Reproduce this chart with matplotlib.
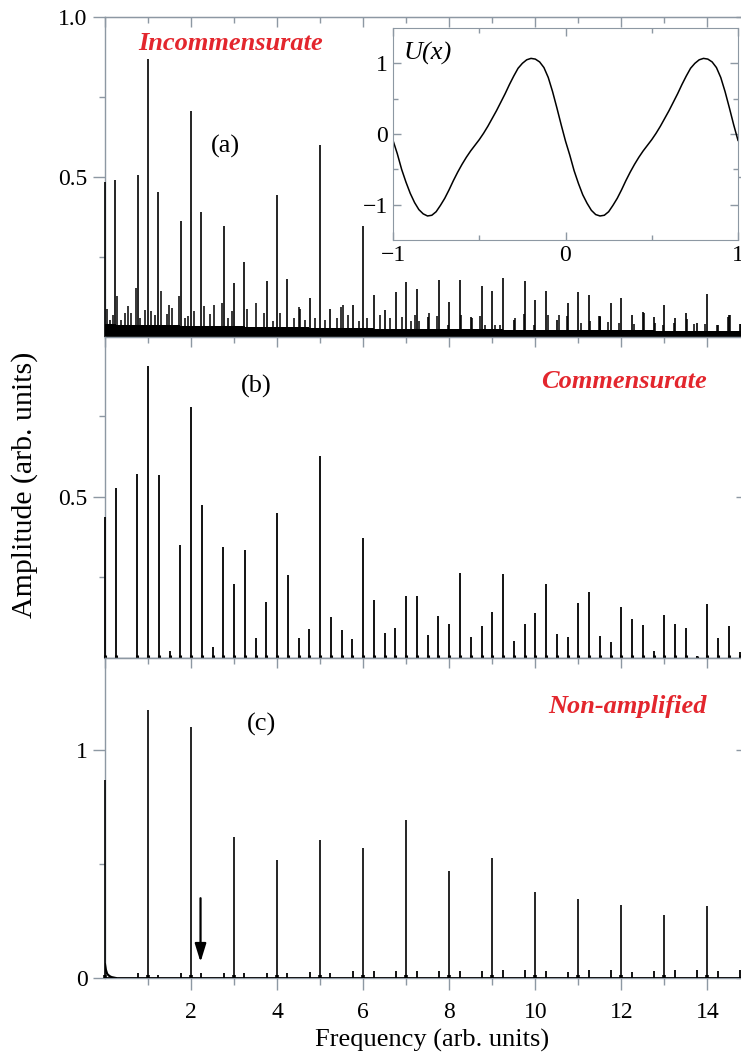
#!/usr/bin/env python3
"""Spectra of the ratchet response: incommensurate, commensurate, non-amplified."""

import os

os.environ.setdefault("MPLCONFIGDIR", "/tmp/matplotlib")

import matplotlib

matplotlib.use("Agg")
import matplotlib.pyplot as plt
import numpy as np
from matplotlib.ticker import FixedLocator, MultipleLocator, NullFormatter

W, H, DPI = 741, 1057, 100
SPINE = "#8d98a3"
RED = "#e3262d"
SERIF = ["Liberation Serif", "DejaVu Serif"]

# (a) incommensurate: main lines
A_FREQ = [0.0, 0.24, 0.77, 1.0, 1.24, 1.77, 2.0, 2.24, 2.77, 3.0, 3.24, 3.76, 4.0, 4.24,
          4.76, 5.0, 5.24, 5.76, 6.0, 6.24, 6.5, 6.76, 7.0, 7.24, 7.5, 7.76, 8.0, 8.24,
          8.5, 8.76, 9.0, 9.24, 9.5, 9.76, 10.0, 10.24, 10.5, 10.76, 11.0, 11.24, 11.5,
          11.76, 12.0, 12.24, 12.5, 12.76, 13.0, 13.24, 13.5, 13.76, 14.0, 14.24, 14.5, 14.76]
A_AMP = [0.485, 0.49, 0.507, 0.869, 0.454, 0.364, 0.706, 0.392, 0.347, 0.171, 0.236, 0.175,
         0.444, 0.183, 0.123, 0.600, 0.088, 0.100, 0.347, 0.131, 0.086, 0.14, 0.173, 0.152,
         0.064, 0.18, 0.111, 0.18, 0.064, 0.161, 0.144, 0.186, 0.054, 0.176, 0.118, 0.144,
         0.054, 0.108, 0.14, 0.131, 0.064, 0.108, 0.124, 0.069, 0.08, 0.062, 0.10, 0.061,
         0.075, 0.046, 0.134, 0.04, 0.071, 0.043]
# (a) small combination lines ("grass")
A_GRASS_FREQ = [0.04, 0.12, 0.18, 0.29, 0.37, 0.47, 0.54, 0.60, 0.71, 0.81, 0.93, 1.06, 1.16,
                1.30, 1.43, 1.49, 1.55, 1.72, 1.86, 1.94, 2.07, 2.30, 2.44, 2.54, 2.72, 2.87,
                2.96, 3.30, 3.50, 3.70, 3.91, 4.07, 4.40, 4.50, 4.53, 4.65, 4.88, 5.12, 5.38,
                5.48, 5.53, 5.65, 5.90, 6.10, 6.38, 6.63, 6.90, 7.10, 7.21, 7.29, 7.52, 7.71,
                7.98, 8.28, 8.53, 8.72, 8.82, 9.07, 9.19, 9.53, 9.73, 9.96, 10.30, 10.54,
                10.74, 11.06, 11.26, 11.47, 11.51, 11.70, 11.94, 12.29, 12.52, 12.79, 12.96,
                13.22, 13.53, 13.69, 13.94, 14.23, 14.48, 14.53, 14.77]
A_GRASS_AMP = [0.09, 0.054, 0.071, 0.128, 0.054, 0.075, 0.098, 0.077, 0.155, 0.059, 0.084,
               0.083, 0.071, 0.145, 0.074, 0.10, 0.093, 0.128, 0.059, 0.066, 0.083, 0.097,
               0.074, 0.10, 0.106, 0.059, 0.082, 0.09, 0.108, 0.077, 0.05, 0.075, 0.06, 0.095,
               0.09, 0.055, 0.06, 0.055, 0.06, 0.095, 0.10, 0.07, 0.05, 0.06, 0.07, 0.06,
               0.065, 0.05, 0.07, 0.051, 0.075, 0.066, 0.038, 0.071, 0.059, 0.066, 0.04,
               0.04, 0.04, 0.059, 0.072, 0.038, 0.071, 0.069, 0.066, 0.045, 0.052, 0.066,
               0.066, 0.048, 0.045, 0.042, 0.076, 0.045, 0.04, 0.045, 0.056, 0.042, 0.042,
               0.038, 0.064, 0.071, 0.042]
# (a) dense noise floor
A_FLOOR_FREQ = [0.0, 0.5, 1.0, 1.5, 2.0, 2.5, 3.0, 3.5, 4.0, 4.5, 5.0, 5.5, 6.0, 6.5, 7.0, 7.5,
                8.0, 8.5, 9.0, 9.5, 10.0, 10.5, 11.0, 11.5, 12.0, 12.5, 13.0, 13.5, 14.0, 14.5, 15.0]
A_FLOOR_AMP = [0.042, 0.04, 0.038, 0.037, 0.036, 0.035, 0.034, 0.033, 0.032, 0.031, 0.03, 0.029,
               0.028, 0.027, 0.027, 0.026, 0.026, 0.025, 0.025, 0.024, 0.024, 0.023, 0.023,
               0.022, 0.022, 0.022, 0.021, 0.021, 0.021, 0.02, 0.02]

# (b) commensurate
B_FREQ = [0.0, 0.25, 0.75, 1.0, 1.25, 1.5, 1.75, 2.0, 2.25, 2.5, 2.75, 3.0, 3.25, 3.5, 3.75,
          4.0, 4.25, 4.5, 4.75, 5.0, 5.25, 5.5, 5.75, 6.0, 6.25, 6.5, 6.75, 7.0, 7.25, 7.5,
          7.75, 8.0, 8.25, 8.5, 8.75, 9.0, 9.25, 9.5, 9.75, 10.0, 10.25, 10.5, 10.75, 11.0,
          11.25, 11.5, 11.75, 12.0, 12.25, 12.5, 12.75, 13.0, 13.25, 13.5, 13.75, 14.0,
          14.25, 14.5, 14.75]
B_AMP = [0.436, 0.526, 0.570, 0.905, 0.568, 0.021, 0.349, 0.78, 0.474, 0.033, 0.343, 0.228,
         0.335, 0.061, 0.172, 0.45, 0.256, 0.061, 0.089, 0.627, 0.127, 0.085, 0.058, 0.372,
         0.178, 0.076, 0.092, 0.193, 0.192, 0.071, 0.128, 0.106, 0.262, 0.063, 0.099, 0.143,
         0.259, 0.052, 0.105, 0.139, 0.229, 0.073, 0.064, 0.171, 0.204, 0.066, 0.049, 0.157,
         0.12, 0.102, 0.022, 0.132, 0.104, 0.092, 0.005, 0.166, 0.061, 0.099, 0.019]

# (c) non-amplified
C_FREQ = [0, 1, 2, 3, 4, 5, 6, 7, 8, 9, 10, 11, 12, 13, 14]
C_AMP = [0.87, 1.175, 1.10, 0.62, 0.518, 0.604, 0.569, 0.693, 0.471, 0.525, 0.376, 0.345,
         0.320, 0.276, 0.316]
C_SIDE_FREQ = [0.76, 1.24, 1.76, 2.24, 2.76, 3.24, 3.76, 4.24, 4.76, 5.24, 5.76, 6.24, 6.76,
               7.24, 7.76, 8.24, 8.76, 9.24, 9.76, 10.24, 10.76, 11.24, 11.76, 12.24, 12.76,
               13.24, 13.76, 14.24, 14.76]
C_SIDE_AMP = [0.02, 0.015, 0.022, 0.02, 0.02, 0.02, 0.022, 0.024, 0.028, 0.024, 0.03, 0.03,
              0.03, 0.032, 0.032, 0.03, 0.03, 0.033, 0.033, 0.03, 0.028, 0.033, 0.033, 0.028,
              0.03, 0.033, 0.033, 0.03, 0.033]
C_TAIL_FREQ = [0.0, 0.02, 0.05, 0.10, 0.15, 0.25]
C_TAIL_AMP = [0.06, 0.036, 0.018, 0.009, 0.004, 0.0]
ARROW_FREQ = 2.22
ARROW_FROM, ARROW_TO = 0.35, 0.07

# inset: potential U(x)
U_X = np.linspace(-1.0, 1.0, 81)
U_VALS = [-0.09, -0.28, -0.50, -0.68, -0.84, -0.97, -1.07, -1.13, -1.16, -1.15, -1.10, -1.01,
          -0.91, -0.79, -0.66, -0.54, -0.43, -0.33, -0.24, -0.16, -0.08, 0.01, 0.11, 0.22,
          0.33, 0.45, 0.57, 0.70, 0.82, 0.93, 1.00, 1.05, 1.07, 1.06, 1.02, 0.94, 0.80, 0.60,
          0.37, 0.13,
          -0.10, -0.30, -0.52, -0.70, -0.86, -0.98, -1.08, -1.14, -1.16, -1.15, -1.10, -1.01,
          -0.91, -0.79, -0.66, -0.54, -0.43, -0.33, -0.24, -0.16, -0.08, 0.01, 0.11, 0.22,
          0.33, 0.45, 0.57, 0.70, 0.82, 0.93, 1.00, 1.05, 1.07, 1.06, 1.02, 0.94, 0.80, 0.60,
          0.37, 0.13, -0.09]

PANELS = [
    # name, ymax, major ticks, minor ticks, tick labels, tag, tag pos, note, note pos
    ("a", 1.0, [0.5, 1.0], [0.25, 0.75], ["0.5", "1.0"], "(a)", (225, 146), "Incommensurate", (231, 44)),
    ("b", 0.995, [0.5], [0.25, 0.75], ["0.5"], "(b)", (256, 386), "Commensurate", (624, 382)),
    ("c", 1.405, [0, 1], [0.5], ["0", "1"], "(c)", (261, 724), "Non-amplified", (627, 707)),
]

AX_LEFT, AX_RIGHT = 105, 744
AX_TOP, AX_BOTTOM = 17, 978
XMAX = 14.85
TICK_FS = 17
LABEL_FS = 19


def fig_xy(px: float, py: float):
    return px / W, 1 - py / H


def style_panel(ax, ymax, majors, minors, labels):
    ax.set_xlim(0, XMAX)
    ax.set_ylim(0, ymax)
    for side in ("left", "top", "bottom", "right"):
        ax.spines[side].set_color(SPINE)
        ax.spines[side].set_linewidth(1.0)
    ax.yaxis.set_major_locator(FixedLocator(majors))
    ax.yaxis.set_minor_locator(FixedLocator(minors))
    ax.set_yticklabels(labels)
    ax.tick_params(axis="y", which="both", direction="out", color=SPINE, labelsize=TICK_FS, pad=4)
    ax.tick_params(axis="y", which="major", length=8.5, width=1.0)
    ax.tick_params(axis="y", which="minor", length=4, width=1.0)

    right = ax.secondary_yaxis("right")
    right.set_yticks(majors)
    right.yaxis.set_major_formatter(NullFormatter())
    right.tick_params(axis="y", direction="in", length=6, width=1.0, color=SPINE)
    right.spines["right"].set_color(SPINE)

    top = ax.secondary_xaxis("top")
    top.xaxis.set_major_locator(MultipleLocator(2))
    top.xaxis.set_minor_locator(MultipleLocator(1))
    top.xaxis.set_major_formatter(NullFormatter())
    top.tick_params(axis="x", which="both", direction="in", width=1.0, color=SPINE)
    top.tick_params(axis="x", which="major", length=7)
    top.tick_params(axis="x", which="minor", length=4.5)
    top.spines["top"].set_color(SPINE)


def draw_lines(ax, freq, amp, lw=1.2, base=None, base_lw=2.6):
    ax.vlines(freq, 0, amp, color="black", lw=lw, zorder=3, clip_on=False)
    if base is not None:
        ax.vlines(freq, 0, base, color="black", lw=base_lw, zorder=3, clip_on=False)


def main() -> None:
    plt.rcParams["font.family"] = SERIF
    fig = plt.figure(figsize=(W / DPI, H / DPI), dpi=DPI)

    panel_h = (AX_BOTTOM - AX_TOP) / 3
    axes = {}
    for i, (name, ymax, majors, minors, labels, tag, tag_pos, note, note_pos) in enumerate(PANELS):
        top_px = AX_TOP + i * panel_h
        left, top = fig_xy(AX_LEFT, top_px)
        rect = [left, top - panel_h / H, (AX_RIGHT - AX_LEFT) / W, panel_h / H]
        ax = fig.add_axes(rect)
        style_panel(ax, ymax, majors, minors, labels)
        ax.text(*fig_xy(*tag_pos), tag, transform=fig.transFigure, ha="center", va="center",
                fontsize=LABEL_FS)
        ax.text(*fig_xy(*note_pos), note, transform=fig.transFigure, ha="center", va="center",
                fontsize=LABEL_FS, color=RED, fontweight="bold", fontstyle="italic")
        axes[name] = ax

    ax_a, ax_b, ax_c = axes["a"], axes["b"], axes["c"]
    for ax in (ax_a, ax_b):
        ax.tick_params(axis="x", which="both", bottom=False, labelbottom=False)

    # (a)
    ax_a.fill_between(A_FLOOR_FREQ, 0, A_FLOOR_AMP, step="mid", color="black", lw=0, zorder=3)
    draw_lines(ax_a, A_GRASS_FREQ, A_GRASS_AMP, lw=1.1)
    draw_lines(ax_a, A_FREQ, A_AMP, lw=1.2)
    ax_a.axhline(0, color="black", lw=2.0, zorder=3)

    # (b)
    draw_lines(ax_b, B_FREQ, B_AMP, lw=1.3, base=[min(v, 0.008) for v in B_AMP], base_lw=2.2)
    ax_b.axhline(0, color="#555555", lw=0.8, zorder=3)

    # (c)
    draw_lines(ax_c, C_SIDE_FREQ, C_SIDE_AMP, lw=1.3)
    draw_lines(ax_c, C_FREQ, C_AMP, lw=1.2, base=[0.015] * len(C_FREQ))
    ax_c.plot(C_TAIL_FREQ, C_TAIL_AMP, color="black", lw=1.6, zorder=3)
    ax_c.axhline(0, color="black", lw=2.0, zorder=3)
    ax_c.annotate("", xy=(ARROW_FREQ, ARROW_TO), xytext=(ARROW_FREQ, ARROW_FROM),
                  arrowprops=dict(arrowstyle="-|>,head_length=0.55,head_width=0.17",
                                  color="black", lw=1.6, mutation_scale=20, shrinkA=0, shrinkB=0))
    ax_c.xaxis.set_major_locator(FixedLocator([2, 4, 6, 8, 10, 12, 14]))
    ax_c.xaxis.set_minor_locator(FixedLocator([1, 3, 5, 7, 9, 11, 13]))
    ax_c.tick_params(axis="x", which="both", direction="out", color=SPINE, labelsize=TICK_FS, pad=9)
    ax_c.tick_params(axis="x", which="major", length=8.5, width=1.0)
    ax_c.tick_params(axis="x", which="minor", length=5, width=1.0)

    fig.text(*fig_xy(432, 1040), "Frequency (arb. units)", ha="center", va="center",
             fontsize=LABEL_FS)
    fig.text(*fig_xy(25, 485), "Amplitude (arb. units)", ha="center", va="center",
             rotation=90, fontsize=21.5)

    # inset
    l, t = fig_xy(393, 28)
    ax_in = fig.add_axes([l, t - 212 / H, 345 / W, 212 / H])
    ax_in.plot(U_X, U_VALS, color="black", lw=1.1)
    ax_in.set_xlim(-1, 1)
    ax_in.set_ylim(-1.5, 1.5)
    ax_in.set_xticks([-1, 0, 1])
    ax_in.set_yticks([-1, 0, 1])
    ax_in.xaxis.set_minor_locator(FixedLocator([-0.5, 0.5]))
    ax_in.yaxis.set_minor_locator(FixedLocator([-0.5, 0.5]))
    ax_in.tick_params(which="both", direction="in", color=SPINE, labelsize=TICK_FS, width=1.0,
                      top=True, right=True)
    ax_in.tick_params(which="major", length=6)
    ax_in.tick_params(which="minor", length=3.5)
    for side in ax_in.spines.values():
        side.set_color(SPINE)
    ax_in.text(0.03, 0.88, "U(x)", transform=ax_in.transAxes, ha="left", va="center",
               fontsize=LABEL_FS, fontstyle="italic")

    fig.savefig("out.png", dpi=DPI)
    plt.close(fig)


if __name__ == "__main__":
    main()
